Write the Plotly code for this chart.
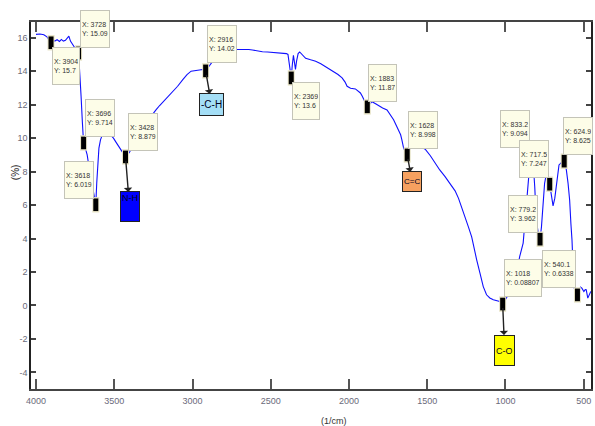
import plotly.graph_objects as go

# ---------------- data ----------------
wavenumber = [4000, 3975, 3950, 3930, 3915, 3904, 3892, 3880, 3865, 3850, 3838, 3825, 3812,
              3800, 3790, 3780, 3765, 3745, 3728, 3720, 3712, 3704, 3696, 3685, 3673, 3660,
              3645, 3630, 3618, 3612, 3606, 3598, 3588, 3578, 3560, 3540, 3520, 3505, 3485,
              3465, 3445, 3428, 3415, 3400, 3380, 3350, 3320, 3290, 3260, 3232, 3210, 3190,
              3160, 3126, 3095, 3062, 3035, 3009, 2980, 2955, 2935, 2916, 2880, 2850, 2800,
              2760, 2723, 2680, 2640, 2617, 2580, 2553, 2520, 2490, 2450, 2420, 2400, 2390,
              2380, 2369, 2362, 2355, 2348, 2342, 2335, 2325, 2315, 2300, 2277, 2245, 2213,
              2180, 2150, 2120, 2097, 2070, 2044, 2025, 2012, 1990, 1959, 1940, 1927, 1915,
              1906, 1895, 1883, 1870, 1853, 1830, 1810, 1785, 1757, 1740, 1715, 1700, 1683,
              1670, 1662, 1651, 1640, 1628, 1615, 1600, 1570, 1540, 1513, 1480, 1449, 1420,
              1386, 1355, 1322, 1300, 1280, 1260, 1237, 1216, 1200, 1184, 1163, 1142, 1121,
              1100, 1078, 1055, 1036, 1018, 1005, 993, 972, 951, 930, 909, 887, 875, 866,
              855, 845, 833.2, 825, 813, 803, 790, 779.2, 770, 760, 750, 740, 728, 717.5,
              705, 696, 685, 675, 665, 658, 643, 635, 624.9, 611, 600, 590, 582, 575, 563,
              552, 540.1, 531, 520, 512, 505, 499, 490, 484, 474, 465, 455]
transmittance = [16.2, 16.22, 16.18, 16.05, 15.85, 15.7, 15.85, 15.8, 15.88, 15.78, 15.9, 15.8, 15.85,
                 16.0, 16.1, 15.8, 15.55, 15.3, 15.09, 14.0, 12.5, 11.0, 9.714, 9.4, 9.0, 8.2,
                 7.4, 6.6, 6.019, 7.3, 8.5, 9.4, 9.9, 10.15, 10.2, 10.25, 10.15, 10.0, 9.7,
                 9.4, 9.15, 8.879, 9.0, 9.2, 9.6, 10.1, 10.6, 11.0, 11.4, 11.7, 11.95, 12.15,
                 12.4, 12.75, 13.1, 13.5, 13.8, 14.0, 14.05, 14.05, 14.1, 14.02, 14.5, 14.85, 15.15,
                 15.28, 15.3, 15.32, 15.3, 15.27, 15.2, 15.16, 15.15, 15.13, 15.1, 15.08, 15.05, 15.0,
                 14.4, 13.6, 14.4, 14.95, 14.5, 14.1, 14.6, 15.05, 15.15, 15.0, 14.77, 14.68, 14.6,
                 14.45, 14.27, 14.1, 14.0, 13.8, 13.6, 13.35, 13.1, 12.98, 12.94, 12.8, 12.7, 12.5,
                 12.3, 12.05, 11.87, 12.0, 12.18, 12.05, 11.92, 11.8, 11.68, 11.45, 11.1, 10.8, 10.5,
                 10.2, 9.9, 9.4, 9.2, 8.998, 9.3, 9.55, 9.65, 9.5, 9.34, 8.95, 8.5, 8.1,
                 7.7, 7.25, 6.85, 6.4, 5.9, 5.35, 4.7, 4.1, 3.3, 2.73, 1.93, 1.13, 0.64,
                 0.45, 0.34, 0.3, 0.24, 0.08807, 0.3, 0.44, 0.75, 1.13, 1.9, 2.93, 3.73, 5.0, 5.9,
                 7.2, 8.4, 9.094, 8.8, 7.1, 5.1, 4.3, 3.962, 4.7, 6.0, 7.3, 7.8, 7.6, 7.247,
                 6.4, 5.95, 6.4, 7.1, 7.9, 8.4, 8.54, 8.7, 8.625, 8.1, 7.3, 6.3, 4.9, 3.92, 1.13,
                 0.75, 0.6338, 0.84, 1.1, 1.04, 0.9, 0.84, 0.95, 0.94, 0.44, 0.6, 0.84]

tip_x = [3904, 3728, 3696, 3618, 3428, 2916, 2369, 1883, 1628, 1018, 833.2, 779.2, 717.5, 624.9, 540.1]
tip_y = [15.7, 15.09, 9.714, 6.019, 8.879, 14.02, 13.6, 11.87, 8.998, 0.08807, 9.094, 3.962, 7.247, 8.625, 0.6338]

x_ticks = [4000, 3500, 3000, 2500, 2000, 1500, 1000, 500]
y_ticks = [-4, -2, 0, 2, 4, 6, 8, 10, 12, 14, 16]

band_labels = ["N-H", "-C-H", "C=C", "C-O"]
band_tip_x = [3428, 2916, 1628, 1018]

x_title = "(1/cm)"
y_title = "(%)"

# ---------------- styles / placement ----------------
FONT = "Liberation Sans, Arial, sans-serif"
tip_offsets = [(15, -23), (16, 24), (16, 25), (-17, 25), (17, 25), (16, 27), (15, -23), (15, 24),
               (16, 25), (20, 26), (-17, 24), (-17, 25), (-16, 25), (14, 25), (-18, 26)]
band_styles = [
    dict(bg="#0000FF", ax=4, ay=50, h=27, size=9, valign="top"),
    dict(bg="#A4DEF6", ax=6, ay=34, h=19, size=10, valign="middle"),
    dict(bg="#F6A160", ax=5, ay=27, h=17, size=8, valign="middle"),
    dict(bg="#FFFF00", ax=2, ay=46, h=27, size=9, valign="middle"),
]

fig = go.Figure()

fig.add_trace(go.Scatter(
    x=wavenumber, y=transmittance, mode="lines",
    line=dict(color="#1010FF", width=1.1), hoverinfo="skip", showlegend=False))

# datatip markers (outline + black bar)
fig.add_trace(go.Scatter(
    x=tip_x, y=tip_y, mode="markers", showlegend=False, hoverinfo="skip",
    marker=dict(symbol="line-ns", size=11, line=dict(width=7, color="#E6E2C4"))))
fig.add_trace(go.Scatter(
    x=tip_x, y=tip_y, mode="markers", showlegend=False, hoverinfo="skip",
    marker=dict(symbol="line-ns", size=9, line=dict(width=5, color="#000000"))))

annotations = []
for tx, ty, (dx, dy) in zip(tip_x, tip_y, tip_offsets):
    annotations.append(dict(
        x=tx, y=ty, xref="x", yref="y", text=f"X: {tx:g}<br>Y: {ty:g}",
        showarrow=False, xshift=dx, yshift=dy, xanchor="center", yanchor="middle",
        align="left", bgcolor="#FDFDE8", bordercolor="#C4C4B8", borderwidth=1, borderpad=1,
        height=34, font=dict(family=FONT, size=7, color="#333333")))

for lab, bx, st in zip(band_labels, band_tip_x, band_styles):
    by = tip_y[tip_x.index(bx)]
    annotations.append(dict(
        x=bx, y=by, xref="x", yref="y", text=lab, showarrow=True,
        arrowside="start", arrowhead=2, arrowsize=1, arrowwidth=1.4, arrowcolor="#222222",
        standoff=4, ax=st["ax"], ay=st["ay"], bgcolor=st["bg"], bordercolor="#222222",
        borderwidth=1, borderpad=1, height=st["h"], valign=st["valign"],
        font=dict(family=FONT, size=st["size"], color="#000022")))

annotations.append(dict(
    x=-0.0285, y=0.591, xref="paper", yref="paper", text=y_title, textangle=-90,
    xanchor="center", yanchor="middle",
    showarrow=False, font=dict(family=FONT, size=10, color="#222222")))
annotations.append(dict(
    x=0.541, y=-0.087, xref="paper", yref="paper", text=x_title,
    xanchor="center", yanchor="middle",
    showarrow=False, font=dict(family=FONT, size=9, color="#333333")))

fig.update_layout(
    width=595, height=426,
    margin=dict(l=31, r=2, t=22, b=37),
    paper_bgcolor="white", plot_bgcolor="white",
    font=dict(family=FONT, size=9, color="#6a6a6a"),
    annotations=annotations,
    showlegend=False,
)
fig.update_xaxes(
    range=[4032, 453.5], tickmode="array", tickvals=x_ticks,
    ticktext=[str(v) for v in x_ticks], ticks="inside", ticklen=10, tickwidth=1.5,
    tickcolor="#555555", showline=True, linecolor="#444444", linewidth=1.5, mirror="ticks",
    showgrid=False, zeroline=False, ticklabelstandoff=2,
    tickfont=dict(family=FONT, size=9, color="#6a6a7a"))
fig.update_yaxes(
    range=[-4.99, 16.94], tickmode="array", tickvals=y_ticks,
    ticktext=[str(v) for v in y_ticks], ticks="inside", ticklen=5, tickwidth=1.5,
    tickcolor="#444444", showline=True, linecolor="#222222", linewidth=1.5, mirror="ticks",
    showgrid=False, zeroline=False,
    tickfont=dict(family=FONT, size=9, color="#6a6a7a"))

fig.write_html(
    "out.html",
    config={"displayModeBar": False},
    post_script="document.body.style.margin='0';document.body.style.padding='0';"
                "document.body.style.overflow='hidden';")
